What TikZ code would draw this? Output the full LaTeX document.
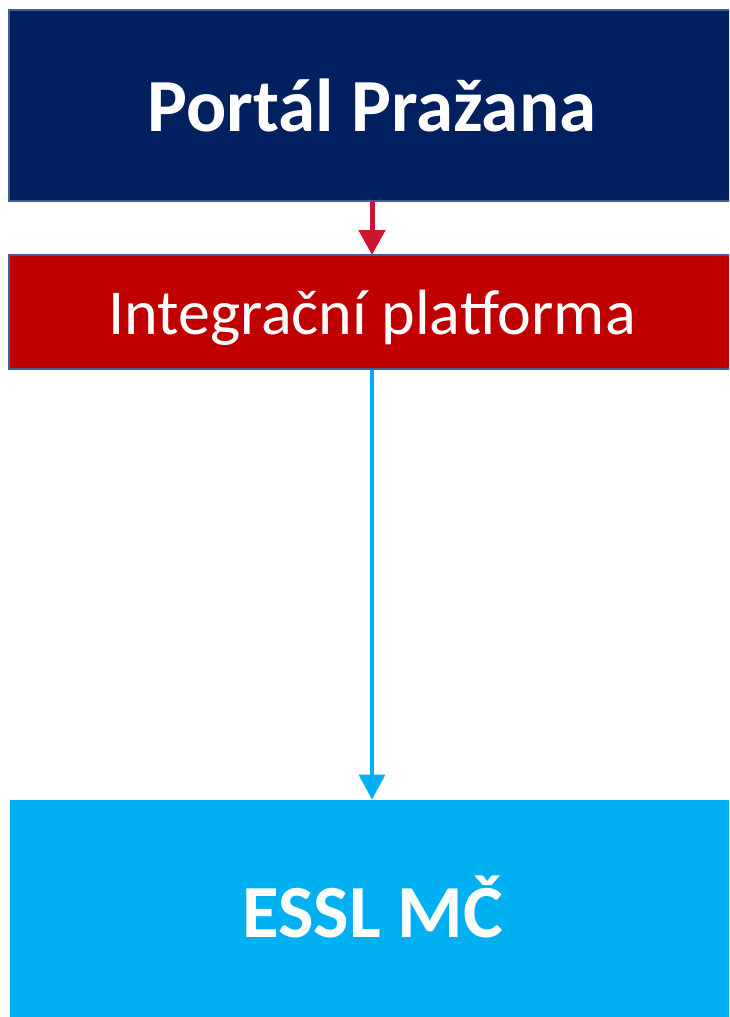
\documentclass[tikz,border=0pt]{standalone}
\usepackage{fontspec}
\setmainfont{Carlito}
\usetikzlibrary{arrows.meta}
\definecolor{navy}{HTML}{002060}
\definecolor{darkred}{HTML}{C00000}
\definecolor{sky}{HTML}{00B0F0}
\definecolor{edge}{HTML}{41609A}
\definecolor{arrred}{HTML}{CC1530}
\tikzset{
  x=1pt,y=-1pt,
  box/.style={anchor=north west,inner sep=0pt,outer sep=0pt,text=white,align=center,text depth=0pt},
  link/.style={-{Triangle[width=26pt,length=25pt]}}
}
\begin{document}
\begin{tikzpicture}
\useasboundingbox (0,0) rectangle (729,1017);
\clip (0,0) rectangle (729,1017);
\node[box,fill=navy,draw=edge,line width=2pt,minimum width=726pt,minimum height=191pt,text height=52pt,font=\fontsize{75}{88}\selectfont\bfseries] (portal) at (9,10) {Portál Pražana};
\node[box,fill=darkred,draw=edge,line width=2pt,minimum width=726pt,minimum height=114pt,text height=44pt,font=\fontsize{64}{76}\selectfont] (ip) at (9,255) {Integrační platforma};
\node[box,fill=sky,minimum width=725pt,minimum height=217pt,text height=58pt,font=\fontsize{75}{88}\selectfont\bfseries] (essl) at (10,799.5) {ESSL MČ};
\draw[link,arrred,line width=5pt] (372,201) -- (372,255);
\draw[link,sky,line width=4pt] (372,370) -- (372,799.5);
\end{tikzpicture}
\end{document}
